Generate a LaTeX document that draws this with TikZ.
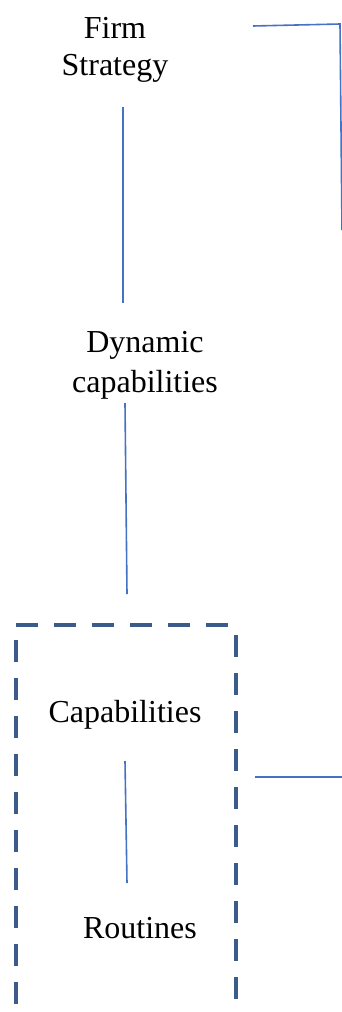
\documentclass[tikz,border=0pt]{standalone}
\usepackage{fontspec}
\setmainfont{Liberation Serif}
\definecolor{linkblue}{HTML}{4472C4}
\definecolor{frameblue}{HTML}{3B5B8A}
\begin{document}
\begin{tikzpicture}[x=1pt,y=-1pt,
  term/.style={font=\fontsize{32}{40}\selectfont, align=center, inner sep=0pt},
  link/.style={draw=linkblue, line width=1.6pt},
  frame/.style={draw=frameblue, line width=4pt, dash pattern=on 22pt off 16pt}]
\useasboundingbox (0,0) rectangle (342,1012);
\clip (0,0) rectangle (342,1012);

% concepts
\node[term, font=\fontsize{32}{37}\selectfont] (firm) at (115,49.5) {Firm\\Strategy};
\node[term] (dyn)  at (145,365) {Dynamic\\capabilities};
\node[term] (cap)  at (125,714.5) {Capabilities};
\node[term] (rout) at (140,928) {Routines};

% connector end points
\coordinate (firmS) at (123,107);
\coordinate (dynN)  at (123,303);
\coordinate (dynS)  at (125,403);
\coordinate (boxN)  at (127,594);
\coordinate (capS)  at (125,761);
\coordinate (routN) at (127,883);
\coordinate (firmE) at (253,26);
\coordinate (edgeT) at (340,24);
\coordinate (edgeB) at (342,230);
\coordinate (boxE)  at (255,777);
\coordinate (edgeR) at (342,777);

\draw[link] (firmS) -- (dynN);
\draw[link] (dynS) -- (boxN);
\draw[link] (capS) -- (routN);
\draw[link] (firmE) -- (edgeT) -- (edgeB);
\draw[link] (boxE) -- (edgeR);

% dashed frame around capabilities and routines
\draw[frame] (16,625) -- (236,625);
\draw[frame] (16,640) -- (16,1012);
\draw[frame] (236,635) -- (236,1012);
\end{tikzpicture}
\end{document}
